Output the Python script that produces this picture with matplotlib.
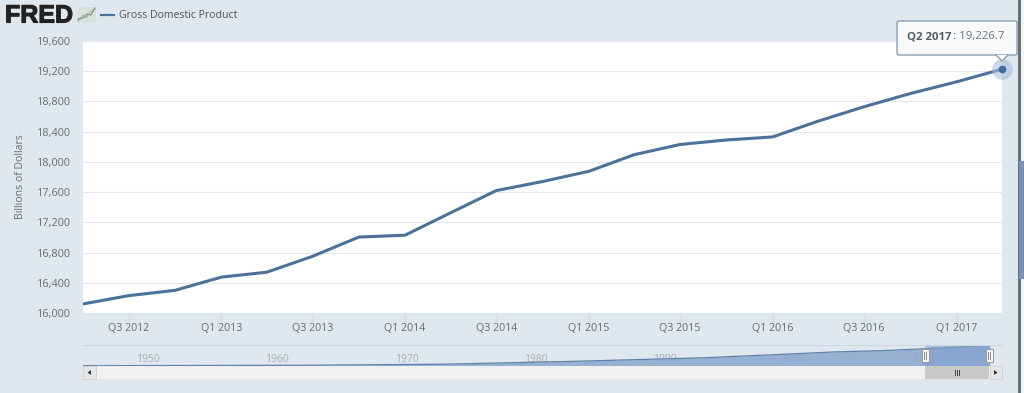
import matplotlib
matplotlib.use('Agg')
import matplotlib.pyplot as plt
import matplotlib.patheffects as pe
from matplotlib.patches import Rectangle, FancyBboxPatch, Polygon
import pandas as pd

W, H = 1024, 393

quarters = ['2012-04-01', '2012-07-01', '2012-10-01', '2013-01-01', '2013-04-01', '2013-07-01',
            '2013-10-01', '2014-01-01', '2014-04-01', '2014-07-01', '2014-10-01', '2015-01-01',
            '2015-04-01', '2015-07-01', '2015-10-01', '2016-01-01', '2016-04-01', '2016-07-01',
            '2016-10-01', '2017-01-01', '2017-04-01']
gdp = [16120, 16230, 16300, 16475, 16540, 16750, 17005, 17030, 17325, 17620, 17740,
       17875, 18095, 18230, 18290, 18330, 18540, 18730, 18905, 19060, 19226.7]

y_ticks = [16000, 16400, 16800, 17200, 17600, 18000, 18400, 18800, 19200, 19600]
x_tick_dates = ['2012-07-01', '2013-01-01', '2013-07-01', '2014-01-01', '2014-07-01', '2015-01-01',
                '2015-07-01', '2016-01-01', '2016-07-01', '2017-01-01']
x_tick_labels = ['Q3 2012', 'Q1 2013', 'Q3 2013', 'Q1 2014', 'Q3 2014', 'Q1 2015',
                 'Q3 2015', 'Q1 2016', 'Q3 2016', 'Q1 2017']

# overview strip under the chart
nav_years = [1947, 1955, 1965, 1975, 1985, 1995, 2000, 2005, 2009, 2012.25, 2017.25]
nav_gdp = [250, 420, 740, 1680, 4350, 7640, 10250, 13040, 14400, 16120, 19226.7]
nav_ticks = [1950, 1960, 1970, 1980, 1990, 2000, 2010]

BG = '#dfe7ef'
LINE = '#4c7299'
TEXT = '#666f78'


def axes_px(left, top, right, bottom):
    return [left / W, 1 - bottom / H, (right - left) / W, (bottom - top) / H]


plt.rcParams['font.family'] = ['Open Sans', 'DejaVu Sans']
fig = plt.figure(figsize=(W / 100, H / 100), dpi=100, facecolor=BG)

# main chart
ax = fig.add_axes(axes_px(83, 41, 1002, 313))
dates = pd.to_datetime(quarters)
ax.plot(dates, gdp, color=LINE, lw=2.2, solid_capstyle='round', zorder=3)
ax.set_xlim(dates[0], dates[-1])
ax.set_ylim(16000, 19600)
ax.set_yticks(y_ticks)
ax.set_yticklabels([f'{v:,}' for v in y_ticks], fontsize=7.8, color=TEXT)
ax.set_xticks(pd.to_datetime(x_tick_dates))
ax.set_xticklabels(x_tick_labels, fontsize=7.7, color=TEXT)
ax.tick_params(axis='y', length=0, pad=9)
ax.tick_params(axis='x', length=6.5, width=0.8, color='#d3dce4', pad=1, direction='out')
ax.grid(axis='y', color='#e4e8ec', lw=0.8)
ax.set_axisbelow(True)
for s in ax.spines.values():
    s.set_visible(False)
ax.set_ylabel('Billions of Dollars', fontsize=7.6, color=TEXT)
ax.yaxis.set_label_coords(-0.0625, 0.5)

# hover marker on last point
ax.plot(dates[-1], gdp[-1], 'o', ms=15, color='#a9c0dc', alpha=0.6, mec='none', clip_on=False, zorder=4)
ax.plot(dates[-1], gdp[-1], 'o', ms=5.5, color='#3f6da3', mec='none', clip_on=False, zorder=5)

# navigator
nav = fig.add_axes(axes_px(83, 345, 990, 366), facecolor='none')
for yr in nav_ticks:
    nav.annotate(str(yr), (yr, 0), xytext=(19, 1), textcoords='offset points', fontsize=7.5,
                 color='#a9afb5', ha='center', va='bottom', zorder=0)
nav.fill_between(nav_years, nav_gdp, 0, color='#8ca9cf', alpha=0.88, lw=0, zorder=1)
nav.plot(nav_years, nav_gdp, color='#5f80a8', lw=0.9, zorder=2)
nav.axvspan(2012.25, 2017.25, color='#7e9fcd', alpha=0.55, lw=0, zorder=2)
nav.set_xlim(1947, 2017.25)
nav.set_ylim(0, 19600)
nav.axis('off')

# full-figure overlay in pixel coords for header, tooltip, scrollbar
ov = fig.add_axes([0, 0, 1, 1], facecolor='none', zorder=10)
ov.set_xlim(0, W)
ov.set_ylim(H, 0)
ov.axis('off')

ov.text(5, 15.5, 'FRED', fontsize=18, fontweight='bold', color='#222222', va='center', ha='left',
        family=['Liberation Sans', 'DejaVu Sans'],
        path_effects=[pe.withStroke(linewidth=0.8, foreground='#222222')])
ov.add_patch(Rectangle((78, 7), 18, 16, fc='#d8e0dc', ec='none'))
ov.plot([78, 83, 86, 90, 95], [21, 15, 18, 12, 9], color='#a5b8a6', lw=0.9)
ov.plot([78, 83, 87, 91, 95], [19, 18, 14, 15, 8], color='#7f9a82', lw=0.9)
ov.plot([101, 114], [15, 15], color=LINE, lw=1.6)
ov.text(119, 15, 'Gross Domestic Product', fontsize=7.6, color='#4d5660', va='center', ha='left')

# tooltip
ov.add_patch(FancyBboxPatch((897, 21), 120, 34, boxstyle='round,pad=0,rounding_size=2',
                            fc='#f8f9fa', ec='#7f95ac', lw=0.9, zorder=6))
ov.add_patch(Polygon([[996, 55], [1002, 61], [1008, 55]], fc='#f8f9fa', ec='none', zorder=7))
ov.plot([996, 1002, 1008], [55, 61, 55], color='#7f95ac', lw=0.9, zorder=7)
ov.text(907, 37, 'Q2 2017', fontsize=8.2, fontweight='bold', color='#555d66', va='center', ha='left', zorder=8)
ov.text(953, 37, ': 19,226.7', fontsize=8.2, color='#6b737b', va='center', ha='left', zorder=8)

# right edge of the page
ov.add_patch(Rectangle((1018, 0), 2.5, H, fc='#6a6f75', ec='none'))
ov.add_patch(Rectangle((1020.5, 0), 3.5, H, fc='#f2f4f6', ec='none'))
ov.add_patch(Rectangle((1019, 161), 5, 118, fc='#7a8fb5', ec='none'))

# scrollbar
ov.plot([83, 1002], [344.5, 344.5], color='#cdd6de', lw=0.8)
ov.add_patch(Rectangle((83, 366), 919, 13, fc='#f0f1f2', ec='none'))
ov.add_patch(Rectangle((83, 366), 13, 13, fc='#e6e7e8', ec='#cccccc', lw=0.5))
ov.add_patch(Rectangle((990, 366), 12, 13, fc='#e6e7e8', ec='#cccccc', lw=0.5))
ov.add_patch(Rectangle((925, 366), 64, 13, fc='#c9c9c9', ec='none'))
ov.add_patch(Polygon([[91, 370], [87.5, 372.5], [91, 375]], fc='#333333', ec='none'))
ov.add_patch(Polygon([[994, 370], [997.5, 372.5], [994, 375]], fc='#333333', ec='none'))
for xp in [955, 957, 959]:
    ov.plot([xp, xp], [370, 375], color='#444444', lw=0.7)
for xp in [925, 989]:
    ov.add_patch(Rectangle((xp - 3.5, 349), 7, 13, fc='#f4f4f4', ec='#9a9a9a', lw=0.7, zorder=5))
    ov.plot([xp - 1, xp - 1], [352, 359], color='#777777', lw=0.6, zorder=6)
    ov.plot([xp + 1, xp + 1], [352, 359], color='#777777', lw=0.6, zorder=6)

fig.savefig('out.png', dpi=100, facecolor=BG)
